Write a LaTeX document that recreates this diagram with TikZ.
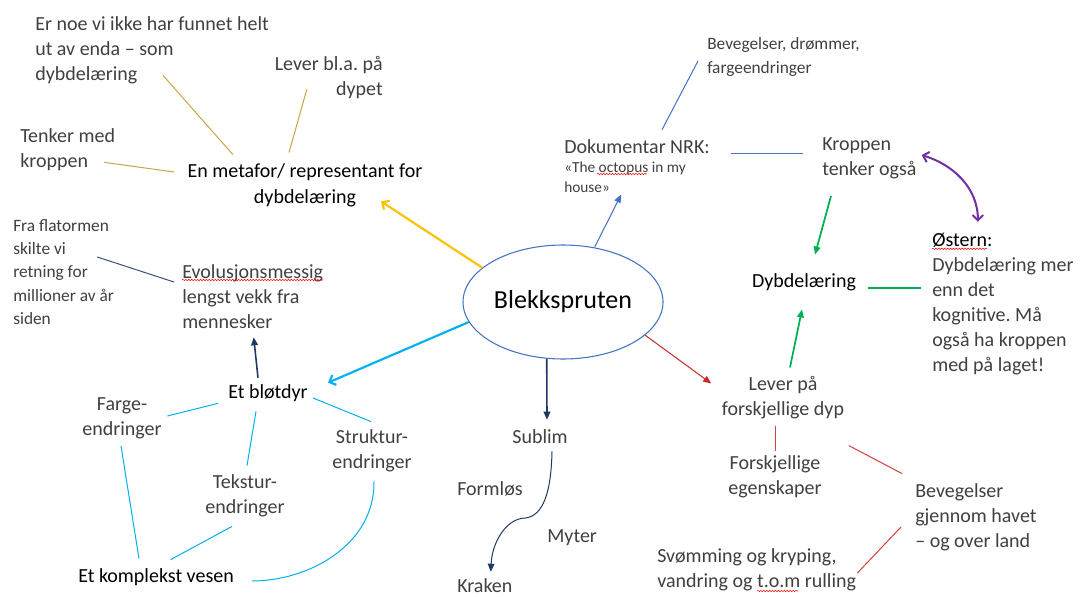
\documentclass[tikz,border=0pt]{standalone}
\usepackage{fontspec}
\setmainfont{Carlito}
\usetikzlibrary{arrows.meta}
\usetikzlibrary{shapes.geometric}
\usetikzlibrary{decorations.pathmorphing}
\frenchspacing
\definecolor{txtgray}{RGB}{64,64,64}
\definecolor{goldline}{RGB}{201,165,70}
\definecolor{sunyellow}{RGB}{255,192,0}
\definecolor{midblue}{RGB}{68,114,196}
\definecolor{skyblue}{RGB}{0,176,240}
\definecolor{navyblue}{RGB}{31,56,100}
\definecolor{slateline}{RGB}{59,78,128}
\definecolor{deepred}{RGB}{200,40,40}
\definecolor{softred}{RGB}{212,64,64}
\definecolor{leafgreen}{RGB}{0,176,80}
\definecolor{plum}{RGB}{112,48,160}
\tikzset{
	graytext/.style={text=txtgray, inner sep=0pt, align=left, font=\fontsize{15}{18.75}\selectfont},
	blacktext/.style={text=black, inner sep=0pt, align=center, font=\fontsize{15}{19.5}\selectfont},
	smalltext/.style={graytext, font=\fontsize{13}{17.5}\selectfont},
	tinytext/.style={graytext, font=\fontsize{11.5}{15}\selectfont},
	thinline/.style={line width=0.75pt},
	openarrow/.style={line width=1.6pt, -{Straight Barb[length=4pt,width=8pt]}},
	fillarrow/.style={-{Triangle[length=6pt,width=5pt]}},
	spell/.style={red, line width=0.4pt, decorate, decoration={snake, amplitude=0.5pt, segment length=2.2pt}}
}

\begin{document}
\begin{tikzpicture}[x=0.75pt, y=-0.75pt]
	\fill[white] (0,0) rectangle (1080,596);
	\useasboundingbox (0,0) rectangle (1080,596);
	%centre
	\node[ellipse, draw=midblue, line width=0.8pt, minimum width=150pt, minimum height=85.5pt, inner sep=0pt, font=\fontsize{19.5}{23}\selectfont] (blekk) at (563,302) {Blekkspruten};
	%upper left
	\node[blacktext] (metafor) at (305,185) {En metafor/ representant for\\dybdelæring};
	\node[graytext, anchor=west] (erno) at (35,50) {Er noe vi ikke har funnet helt\\ut av enda – som\\dybdelæring};
	\node[graytext, align=right, anchor=east] (leverbla) at (383,78) {Lever bl.a. på\\dypet};
	\node[graytext, anchor=west] (tenker) at (20,150) {Tenker med\\kroppen};
	%left
	\node[smalltext, anchor=west] (flat) at (13,272) {Fra flatormen\\skilte vi\\retning for\\millioner av år\\siden};
	\node[graytext, anchor=west] (evol) at (182,297) {Evolusjonsmessig\\lengst vekk fra\\mennesker};
	\node[blacktext] (blotdyr) at (268,393) {Et bløtdyr};
	\node[graytext, align=center] (farge) at (122,418) {Farge-\\endringer};
	\node[graytext, align=center] (tekstur) at (245,496) {Tekstur-\\endringer};
	\node[graytext, align=center] (struktur) at (372,451) {Struktur-\\endringer};
	\node[blacktext, anchor=west] (komplekst) at (78,577) {Et komplekst vesen};
	%bottom
	\node[graytext] (sublim) at (540,437) {Sublim};
	\node[graytext, anchor=west] (formlos) at (457,489) {Formløs};
	\node[graytext, anchor=west] (myter) at (547,538) {Myter};
	\node[graytext, anchor=west] (kraken) at (457,586) {Kraken};
	%upper right
	\node[graytext, anchor=west] (dok) at (564,147) {Dokumentar NRK:};
	\node[tinytext, anchor=west] (octo) at (564,177) {«The octopus in my\\house»};
	\node[smalltext, anchor=west] (bevdrom) at (707,57) {Bevegelser, drømmer,\\fargeendringer};
	\node[graytext, anchor=west] (kroppen) at (822,158) {Kroppen\\tenker også};
	\node[blacktext] (dybde) at (804,282) {Dybdelæring};
	\node[graytext, anchor=west] (ostern) at (932,304.5) {\textcolor{black}{Østern:}\\Dybdelæring mer\\enn det\\kognitive. Må\\også ha kroppen\\med på laget!};
	%lower right
	\node[graytext, align=center] (leverdyp) at (783,398) {Lever på\\forskjellige dyp};
	\node[graytext, align=center] (egensk) at (775,477) {Forskjellige\\egenskaper};
	\node[graytext, anchor=west] (bevhav) at (915,517) {Bevegelser\\gjennom havet\\– og over land};
	\node[graytext, anchor=west] (svom) at (657,570) {Svømming og kryping,\\vandring og t.o.m rulling};
	%spelling marks
	\draw[spell] ([shift={(33,-3)}]octo.west) -- ([shift={(83,-3)}]octo.west);
	\draw[spell] ([shift={(0,-17)}]evol.west) -- ([shift={(141,-17)}]evol.west);
	\draw[spell] ([shift={(0,15.5)}]ostern.north west) -- ([shift={(55,15.5)}]ostern.north west);
	\draw[spell] ([shift={(100,21)}]svom.west) -- ([shift={(141,21)}]svom.west);
	%gold lines
	\draw[goldline, thinline] ([shift={(11,-8.5)}]erno.south) -- ([shift={(45.5,-8.5)}]metafor.north west);
	\draw[goldline, thinline] ([shift={(-22,-10)}]leverbla.south) -- ([shift={(-16,-10.5)}]metafor.north);
	\draw[goldline, thinline] ([shift={(-11,-9)}]tenker.south east) -- ([shift={(-13.5,-13)}]metafor.west);
	\draw[sunyellow, openarrow] (blekk.157) -- ([shift={(-41.5,-5.5)}]metafor.south east);
	%blue lines left
	\draw[skyblue, openarrow] (blekk.192) -- ([shift={(20,-1.5)}]blotdyr.north east);
	\draw[navyblue, line width=1.2pt, fillarrow] ([shift={(-10,-6.5)}]blotdyr.north) -- ([shift={(1,8)}]evol.south);
	\draw[slateline, thinline] ([shift={(-17,-15)}]flat.east) -- ([shift={(-8,-15)}]evol.west);
	\draw[skyblue, thinline] ([shift={(-10,1.5)}]blotdyr.south west) -- ([shift={(5.5,-2)}]farge.east);
	\draw[skyblue, thinline] ([shift={(-12,9.5)}]blotdyr.south) -- ([shift={(2,-9)}]tekstur.north);
	\draw[skyblue, thinline] ([shift={(5,5)}]blotdyr.east) -- ([shift={(-1,-8)}]struktur.north);
	\draw[skyblue, thinline] ([shift={(-1,7)}]farge.south) -- ([shift={(61,-9.5)}]komplekst.north west);
	\draw[skyblue, thinline] ([shift={(-13,9)}]tekstur.south) -- ([shift={(14.5,-8.5)}]komplekst.north);
	\draw[skyblue, thinline] ([shift={(2,9)}]struktur.south) .. controls +(1,63) and +(57,0) .. ([shift={(18,4)}]komplekst.east);
	%navy lines
	\draw[navyblue, line width=1.2pt, fillarrow] (blekk.254) -- ([shift={(7,-10)}]sublim.north);
	\draw[navyblue, thinline, fillarrow] ([shift={(12,7)}]sublim.south) .. controls +(-1,49) and +(18,0) .. ++(-30,67) .. controls +(-18,3) and +(1,-27) .. ([shift={(6,-7)}]kraken.north);
	%blue lines right
	\draw[midblue, thinline, fillarrow] (blekk.60) -- ([shift={(-4,2)}]octo.south);
	\draw[midblue, thinline] ([shift={(25,-10)}]dok.north) -- ([shift={(-9,4)}]bevdrom.west);
	\draw[midblue, thinline] ([shift={(21,6)}]dok.east) -- ([shift={(-19,-5)}]kroppen.west);
	\draw[plum, line width=1.5pt, {Straight Barb[length=4pt,width=8pt]}-{Straight Barb[length=4pt,width=8pt]}] ([shift={(5,18)}]kroppen.north east) .. controls +(30,9) and +(0,-35) .. ([shift={(-25,-11.5)}]ostern.north);
	%green lines
	\draw[leafgreen, line width=1.3pt, fillarrow] ([shift={(9,17)}]kroppen.south west) -- ([shift={(11,-18.5)}]dybde.north);
	\draw[leafgreen, line width=1.3pt] ([shift={(11.5,6)}]dybde.east) -- ([shift={(-11,-16.5)}]ostern.west);
	\draw[leafgreen, line width=1.3pt, fillarrow] ([shift={(7,-9)}]leverdyp.north) -- ([shift={(-2,18.5)}]dybde.south);
	%red lines
	\draw[deepred, thinline, fillarrow] (blekk.-22) -- ([shift={(-10.5,7)}]leverdyp.north west);
	\draw[softred, thinline] ([shift={(-8,6)}]leverdyp.south) -- ([shift={(0,-5)}]egensk.north);
	\draw[softred, thinline] ([shift={(4.5,26)}]leverdyp.south east) -- ([shift={(-13,-9.5)}]bevhav.north west);
	\draw[softred, thinline] ([shift={(-14,10)}]bevhav.west) -- ([shift={(1,3)}]svom.east);
\end{tikzpicture}
\end{document}
